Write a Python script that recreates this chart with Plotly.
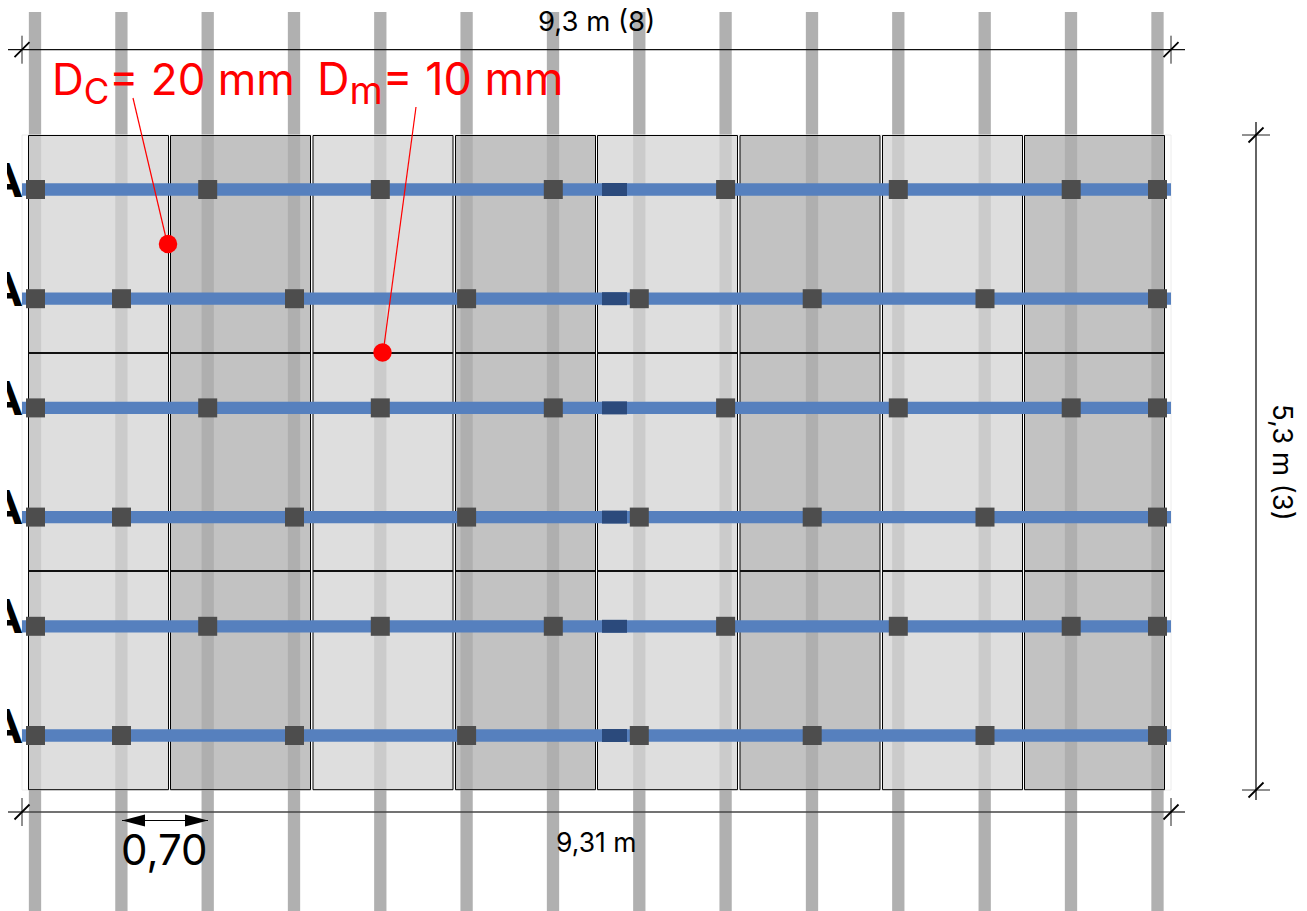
import plotly.graph_objects as go

W, H = 1307, 911

bar_x = [35, 121.4, 207.7, 294, 380.3, 466.6, 553, 639.3, 725.6, 812, 898.3, 984.7, 1071, 1157.5]
bar_span = [12, 911]
panel_left = [28.5, 170.5, 313, 455.5, 597.5, 740, 882.5, 1024.5]
panel_right = [168.5, 310.5, 453, 595.5, 737.5, 880, 1022.5, 1164.5]
panel_rows = [(135.5, 353), (353, 571), (571, 789.7)]
rail_y = [189.5, 298.7, 407.9, 517.1, 626.3, 735.5]
rail_span = [22, 1171]
clips_odd = [35.5, 207.7, 380.3, 553.3, 725.6, 898.3, 1071.2, 1157.5]
clips_even = [35.5, 121.5, 294.5, 466.6, 639.3, 812.2, 985, 1157.5]
joint_span = [602, 627]
dim_top_y = 49.7
dim_bottom_y = 812
dim_x_span = [8, 1185]
dim_right_x = 1256
dim_right_span = [122, 800]
tick_x = [22, 1171]
tick_right_y = [135, 790]
span_arrow_y = 820.5
span_arrow_x = [122, 208]
leader_c = ([133, 166], [98, 238])
leader_m = ([416, 384], [107, 346])
dot_x = [168, 382.5]
dot_y = [244, 352.5]
labels = {"top": "9,3 m (8)", "bottom": "9,31 m", "right": "5,3 m (3)", "span": "0,70",
          "dc": 'D<sub><span style="font-size:35px">C</span></sub>= 20 mm',
          "dm": 'D<sub><span style="font-size:38px">m</span></sub>= 10 mm', "section": "<b>A</b>"}

FONT = "Inter"
fig = go.Figure()


def segs(pairs):
    xs, ys = [], []
    for (x0, y0, x1, y1) in pairs:
        xs += [x0, x1, None]
        ys += [y0, y1, None]
    return xs, ys


def line(pairs, color, width):
    xs, ys = segs(pairs)
    fig.add_trace(go.Scatter(x=xs, y=ys, mode="lines", line=dict(color=color, width=width),
                             hoverinfo="skip", showlegend=False))


def rects(items, fill, border=None, bw=1):
    xs, ys = [], []
    for (x0, y0, x1, y1) in items:
        xs += [x0, x1, x1, x0, x0, None]
        ys += [y0, y0, y1, y1, y0, None]
    fig.add_trace(go.Scatter(x=xs, y=ys, mode="lines", fill="toself", fillcolor=fill,
                             line=dict(color=border or "rgba(0,0,0,0)", width=bw if border else 0),
                             hoverinfo="skip", showlegend=False))


# timber bars behind
line([(x, bar_span[0], x, bar_span[1]) for x in bar_x], "#b0b0b0", 12.3)
# faint outer frame
rects([(rail_span[0], 135, rail_span[1], 790)], "rgba(255,255,255,0)", "#ececec", 1)
# glass panels
light, dark = [], []
for i, (l, r) in enumerate(zip(panel_left, panel_right)):
    for (t, b) in panel_rows:
        (light if i % 2 == 0 else dark).append((l, t, r, b))
rects(light, "rgba(212,212,212,0.76)", "#000000", 1)
rects(dark, "rgba(175,175,175,0.76)", "#000000", 1)
# heavier joints between upper, middle and lower panels
line([(l, b, r, b) for l, r in zip(panel_left, panel_right) for (_, b) in panel_rows[:2]], "#111111", 2)
# rails
line([(rail_span[0], y, rail_span[1], y) for y in rail_y], "#5680be", 12.3)
line([(joint_span[0], y, joint_span[1], y) for y in rail_y], "#2b4a7c", 13)
# clamps
cx, cy = [], []
for i, y in enumerate(rail_y):
    for x in (clips_odd if i % 2 == 0 else clips_even):
        cx.append(x)
        cy.append(y)
fig.add_trace(go.Scatter(x=cx, y=cy, mode="markers", hoverinfo="skip", showlegend=False,
                         marker=dict(symbol="square", size=19, color="#4d4d4d", line=dict(width=0))))

# dimension lines
line([(dim_x_span[0], dim_top_y, dim_x_span[1], dim_top_y)], "#111111", 1.3)
line([(dim_x_span[0], dim_bottom_y, dim_x_span[1], dim_bottom_y)], "#444444", 1.5)
line([(dim_right_x, dim_right_span[0], dim_right_x, dim_right_span[1])], "#111111", 1.3)
verts, slashes = [], []
for x in tick_x:
    for y in (dim_top_y, dim_bottom_y):
        verts.append((x, y - 14, x, y + 14))
        slashes.append((x - 7.5, y + 7.5, x + 7.5, y - 7.5))
for y in tick_right_y:
    verts.append((dim_right_x - 14, y, dim_right_x + 14, y))
    slashes.append((dim_right_x - 7.5, y + 7.5, dim_right_x + 7.5, y - 7.5))
line(verts, "#222222", 1)
line(slashes, "#000000", 1.8)

# 0,70 span arrow
line([(span_arrow_x[0], span_arrow_y, span_arrow_x[1], span_arrow_y)], "#000000", 1.2)
head = 23
hw = 6
xs = [span_arrow_x[0], span_arrow_x[0] + head, span_arrow_x[0] + head, span_arrow_x[0], None,
      span_arrow_x[1], span_arrow_x[1] - head, span_arrow_x[1] - head, span_arrow_x[1], None]
ys = [span_arrow_y, span_arrow_y - hw, span_arrow_y + hw, span_arrow_y, None] * 2
fig.add_trace(go.Scatter(x=xs, y=ys, mode="lines", fill="toself", fillcolor="#000000",
                         line=dict(width=0), hoverinfo="skip", showlegend=False))

# leaders and dots
line([(leader_c[0][0], leader_c[1][0], leader_c[0][1], leader_c[1][1])], "#ff0000", 1.2)
line([(leader_m[0][0], leader_m[1][0], leader_m[0][1], leader_m[1][1])], "#ff0000", 1.2)
fig.add_trace(go.Scatter(x=dot_x, y=dot_y, mode="markers", hoverinfo="skip", showlegend=False,
                         marker=dict(size=18.5, color="#ff0000", line=dict(width=0))))


def note(x, y, text, size, color="#000000", angle=0):
    fig.add_annotation(x=x, y=y, xref="x", yref="y", text=text, showarrow=False, textangle=angle,
                       xanchor="center", yanchor="middle",
                       font=dict(family=FONT, size=size, color=color))


note(596, 21, labels["top"], 27.5)
note(596, 842, labels["bottom"], 26.5)
note(1283, 462, labels["right"], 27.5, angle=90)
note(164, 849, labels["span"], 42)
note(173, 82, labels["dc"], 44, "#ff0000")
note(440, 82, labels["dm"], 45, "#ff0000")

# cut-off section letters at the left edge
fig.add_trace(go.Scatter(x=[6] * len(rail_y), y=[y - 5 for y in rail_y], mode="text",
                         text=[labels["section"]] * len(rail_y),
                         textposition="middle center", hoverinfo="skip", showlegend=False,
                         textfont=dict(family="Roboto", size=48, color="#000000")))
fig.add_shape(type="rect", x0=0, x1=7, y0=135, y1=790, xref="x", yref="y", layer="above",
              fillcolor="#ffffff", line=dict(width=0))

fig.update_layout(width=W, height=H, margin=dict(l=0, r=0, t=0, b=0), paper_bgcolor="#ffffff",
                  plot_bgcolor="#ffffff", showlegend=False, hovermode=False,
                  xaxis=dict(range=[0, W], visible=False, fixedrange=True),
                  yaxis=dict(range=[H, 0], visible=False, fixedrange=True))
fig.write_html("out.html", post_script="document.body.style.margin='0';document.body.style.overflow='hidden';",
               config={"displayModeBar": False})
